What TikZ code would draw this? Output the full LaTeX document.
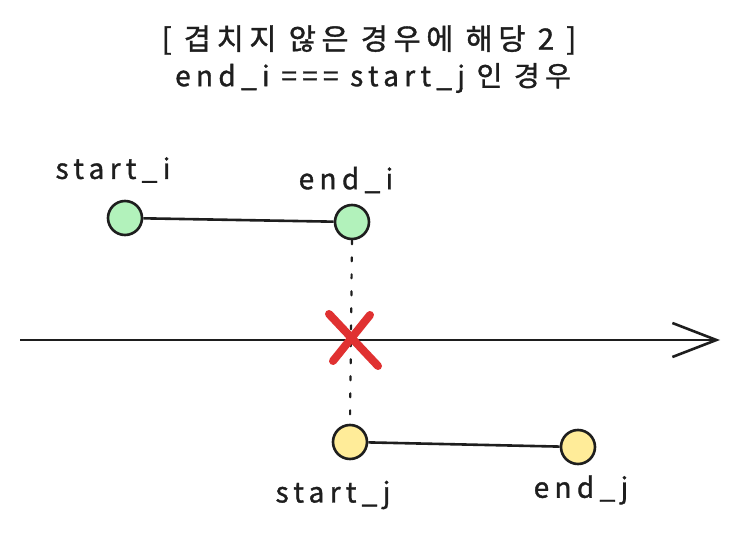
\documentclass[tikz,border=0pt]{standalone}
\usepackage{fontspec}
\setmainfont{Noto Sans CJK KR}[LetterSpace=19,FakeBold=1.2]
\usetikzlibrary{arrows.meta}
\definecolor{ink}{HTML}{1E1E1E}
\definecolor{gfill}{HTML}{B2F2BB}
\definecolor{yfill}{HTML}{FFEC99}
\definecolor{xred}{HTML}{E03131}
\tikzset{
  pt/.style={circle, draw=ink, line width=2.6pt, minimum size=34pt, inner sep=0pt},
  gpt/.style={pt, fill=gfill},
  ypt/.style={pt, fill=yfill},
  lbl/.style={font=\fontsize{28}{32}\selectfont, text=ink, inner sep=0pt},
  ttl/.style={font=\fontsize{29.5}{33}\selectfont, text=ink, inner sep=0pt},
  ttlb/.style={font=\fontsize{28}{32}\selectfont, text=ink, inner sep=0pt},
  seg/.style={draw=ink, line width=2.6pt},
  axis/.style={draw=ink, line width=2.6pt, -{Straight Barb[length=44pt,width=34pt,line width=2.6pt]}},
  dotl/.style={draw=ink, line width=2.2pt, dash pattern=on 4pt off 13pt, line cap=round},
  xmark/.style={draw=xred, line width=8pt, line cap=round}
}
\begin{document}
\begin{tikzpicture}[x=1pt,y=-1pt]
\useasboundingbox[fill=white] (0,0) rectangle (740,537);
\node[ttl] (t1) at (369,40) {[ 겹치지 않은 경우에 해당 2 ]};
\node[ttlb] (t2) at (373,78) {end\_i === start\_j 인 경우};
\node[lbl] (li) at (113,170) {start\_i};
\node[lbl] (le) at (346,180) {end\_i};
\node[gpt] (si) at (125,218) {};
\node[gpt] (ei) at (352,222) {};
\draw[seg] (si) -- (ei);
\node[ypt] (sj) at (350,442) {};
\node[ypt] (ej) at (578,447) {};
\draw[seg] (sj) -- (ej);
\node[lbl] (lsj) at (333,495) {start\_j};
\node[lbl] (lej) at (581,490) {end\_j};
\coordinate (a0) at (20,340);
\coordinate (a1) at (720,340);
\draw[axis] (a0) -- (a1);
\draw[dotl] (ei.south) -- (sj.north);
\coordinate (x1) at (329,314);
\coordinate (x2) at (378,366);
\coordinate (x3) at (370,315);
\coordinate (x4) at (333,361);
\draw[xmark] (x1) -- (x2);
\draw[xmark] (x3) -- (x4);
\end{tikzpicture}
\end{document}
